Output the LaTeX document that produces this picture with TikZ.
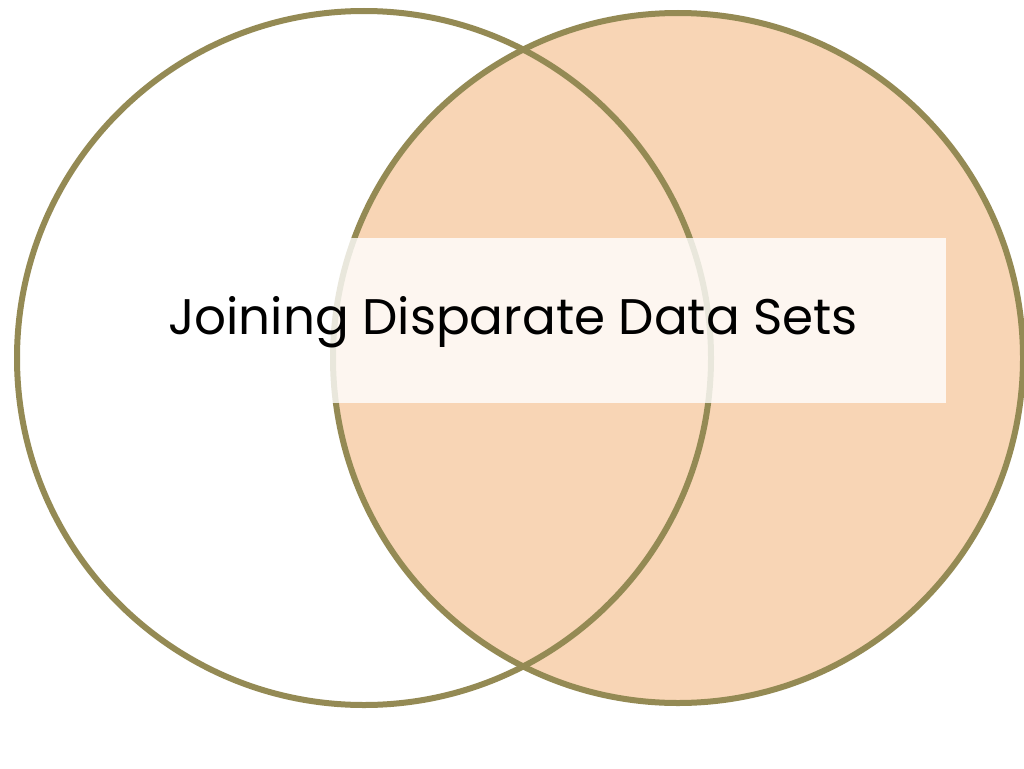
\documentclass[tikz,border=0pt]{standalone}
\usepackage{fontspec}
\setmainfont{Poppins}
\definecolor{olive}{HTML}{948A54}
\definecolor{peach}{HTML}{F8D5B5}
\begin{document}
\begin{tikzpicture}[x=1pt,y=-1pt,
  ring/.style={draw=olive,line width=6pt}]
\useasboundingbox (0,0) rectangle (1024,768);
\fill[white] (0,0) rectangle (1024,768);
\node[ring,circle,fill=peach,minimum size=690pt,inner sep=0pt] (right) at (678,358) {};
\node[ring,circle,minimum size=694pt,inner sep=0pt] (left) at (364,358) {};
\node[fill=white,fill opacity=0.8,minimum width=616pt,minimum height=165pt,inner sep=0pt] (band) at (638,320.5) {};
\node[font=\fontsize{50}{60}\selectfont] (title) at (513,322) {Joining Disparate Data Sets};
\end{tikzpicture}
\end{document}
